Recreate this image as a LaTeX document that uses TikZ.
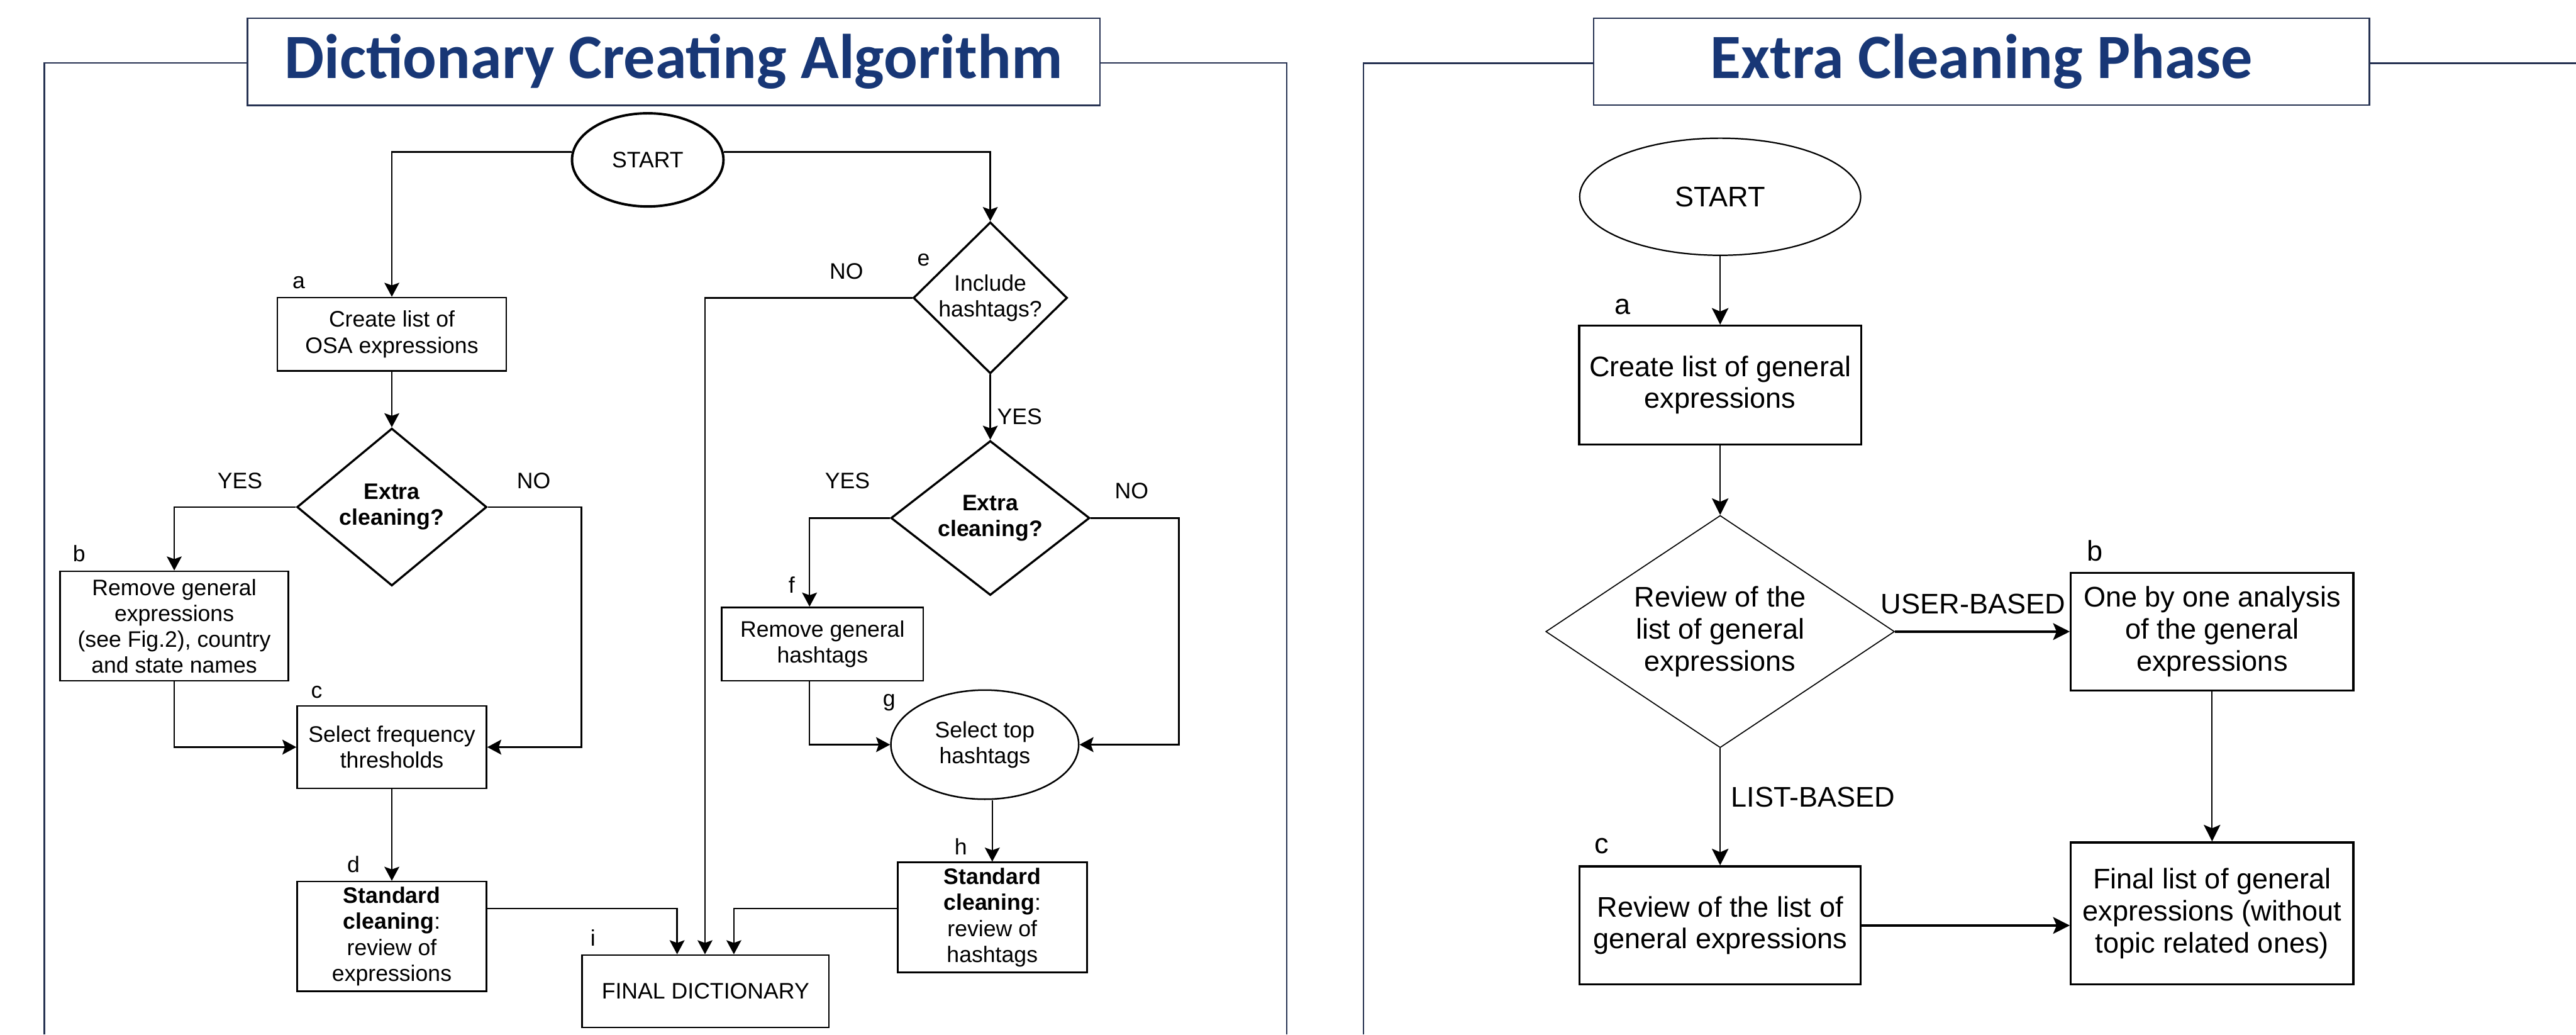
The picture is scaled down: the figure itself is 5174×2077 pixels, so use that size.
\documentclass[tikz,border=0pt]{standalone}
\usepackage{fontspec}
\setmainfont{Liberation Sans}
\newfontfamily\titlefont{Carlito}
\usetikzlibrary{positioning}
\usetikzlibrary{shapes.geometric}
\usetikzlibrary{arrows.meta}

\definecolor{titleblue}{RGB}{24,55,118}
\definecolor{framenavy}{RGB}{38,50,82}

\newcommand{\leftfont}{\fontsize{12.8}{14.8}\selectfont}
\newcommand{\rightfont}{\fontsize{16.2}{18.2}\selectfont}

\tikzset{
    frameline/.style={draw=framenavy, line width=0.8pt},
    titlebox/.style={draw=framenavy, line width=0.8pt, fill=white, inner sep=0pt, text=titleblue, font=\titlefont\bfseries\fontsize{36}{40}\selectfont},
    lbox/.style={draw, line width=0.9pt, align=center, inner sep=0pt, font=\leftfont},
    ldia/.style={diamond, draw, line width=1.2pt, align=center, inner sep=0pt, font=\leftfont\bfseries},
    lflow/.style={line width=0.9pt, -{Stealth[length=8pt,width=8.5pt,inset=1.5pt]}},
    ltxt/.style={font=\leftfont, inner sep=0pt},
    rbox/.style={draw, line width=1.2pt, align=center, inner sep=0pt, font=\rightfont},
    rflow/.style={line width=0.7pt, -{Stealth[length=9.5pt,width=9.5pt,inset=2pt]}},
    rtxt/.style={font=\rightfont, inner sep=0pt}
}

\begin{document}
\begin{tikzpicture}[x=0.01cm, y=-0.01cm]

        \useasboundingbox (0,0) rectangle (5174,2077);

        % frames
        \path[frameline] (89,2077) -- (89,126) -- (498,126);
        \path[frameline] (2209,126) -- (2584,126) -- (2584,2077);
        \path[frameline] (2739,2077) -- (2739,127) -- (3202,127);
        \path[frameline] (4759,127) -- (5174,127);

        \node[titlebox, minimum width=17.11cm, minimum height=1.75cm] (title1) at (1353,124) {Dictionary Creating Algorithm};
        \node[titlebox, minimum width=15.57cm, minimum height=1.74cm] (title2) at (3980,124) {Extra Cleaning Phase};

        % dictionary creating algorithm
        \node[ellipse, draw, line width=1.4pt, minimum width=3.04cm, minimum height=1.87cm, inner sep=0pt, font=\leftfont] (start1) at (1301,321) {START};
        \node[lbox, minimum width=4.59cm, minimum height=1.47cm] (oslist) at (787,671) {Create list of\\OSA expressions};
        \node[ldia, minimum width=3.81cm, minimum height=3.16cm] (xc1) at (787,1018) {Extra\\cleaning?};
        \node[lbox, minimum width=4.58cm, minimum height=2.2cm] (rmgen) at (350,1257) {Remove general\\expressions\\(see Fig.2), country\\and state names};
        \node[lbox, minimum width=3.8cm, minimum height=1.65cm] (selfreq) at (787,1500) {Select frequency\\thresholds};
        \node[lbox, minimum width=3.8cm, minimum height=2.2cm] (stdexp) at (787,1880) {\textbf{Standard}\\\textbf{cleaning}:\\review of\\expressions};
        \node[lbox, minimum width=4.96cm, minimum height=1.45cm] (final) at (1417,1990) {FINAL DICTIONARY};

        \node[ldia, font=\leftfont, minimum width=3.09cm, minimum height=3.04cm] (incl) at (1989,598) {Include\\hashtags?};
        \node[ldia, minimum width=3.99cm, minimum height=3.1cm] (xc2) at (1989,1040) {Extra\\cleaning?};
        \node[lbox, minimum width=4.05cm, minimum height=1.47cm] (rmhash) at (1652,1293) {Remove general\\hashtags};
        \node[ellipse, draw, line width=0.9pt, minimum width=3.77cm, minimum height=2.19cm, inner sep=0pt, align=center, font=\leftfont] (seltop) at (1978,1495) {Select top\\hashtags};
        \node[lbox, minimum width=3.8cm, minimum height=2.21cm] (stdhash) at (1993,1842) {\textbf{Standard}\\\textbf{cleaning}:\\review of\\hashtags};

        \node[ltxt] (la) at (600,567) {a};
        \node[ltxt] (lb) at (159,1111) {b};
        \node[ltxt] (lc) at (636,1390) {c};
        \node[ltxt] (ld) at (710,1735) {d};
        \node[ltxt] (le) at (1855,522) {e};
        \node[ltxt] (lf) at (1590,1174) {f};
        \node[ltxt] (lg) at (1786,1410) {g};
        \node[ltxt] (lh) at (1930,1700) {h};
        \node[ltxt] (li) at (1191,1883) {i};

        \node[ltxt] (yesa) at (482,965) {YES};
        \node[ltxt] (noa) at (1072,965) {NO};
        \node[ltxt] (nob) at (1700,545) {NO};
        \node[ltxt] (yesb) at (2048,836) {YES};
        \node[ltxt] (yesc) at (1702,965) {YES};
        \node[ltxt] (noc) at (2273,985) {NO};

        \coordinate (yes1) at (350,1018);
        \coordinate (no1) at (1168,1018);
        \coordinate (no0) at (1416,598);
        \coordinate (yes2) at (1626,1040);
        \coordinate (no2) at (2368,1040);
        \coordinate (dj1) at (1360,1824);
        \coordinate (dj2) at (1474,1824);

        \draw[lflow] (start1.174) -| (oslist.north);
        \draw[lflow] (start1.6) -| (incl.north);
        \draw[lflow] (oslist) -- (xc1);
        \draw[lflow] (xc1.west) -- (yes1) -- (rmgen.north);
        \draw[lflow] (xc1.east) -- (no1) |- (selfreq.east);
        \draw[lflow] (rmgen.south) |- (selfreq.west);
        \draw[lflow] (selfreq) -- (stdexp);
        \draw[lflow] (stdexp.east |- dj1) -- (dj1) -- (dj1 |- final.north);

        \draw[lflow] (incl.west) -- (no0) -- (no0 |- final.north);
        \draw[lflow] (incl) -- (xc2);
        \draw[lflow] (xc2.west) -- (yes2) -- (yes2 |- rmhash.north);
        \draw[lflow] (xc2.east) -- (no2) |- (seltop.east);
        \draw[lflow] (rmhash.south -| yes2) |- (seltop.west);
        \draw[lflow] (seltop.south -| stdhash.north) -- (stdhash.north);
        \draw[lflow] (stdhash.west |- dj2) -- (dj2) -- (dj2 |- final.north);

        % extra cleaning phase
        \node[ellipse, draw, line width=0.8pt, minimum width=5.64cm, minimum height=2.35cm, inner sep=0pt, font=\rightfont] (start2) at (3455,395) {START};
        \node[rbox, minimum width=5.66cm, minimum height=2.38cm] (glist) at (3455,773) {Create list of general\\expressions};
        \node[diamond, draw, line width=0.6pt, aspect=1.5, minimum width=7cm, minimum height=4.66cm, inner sep=0pt, align=center, font=\rightfont] (review) at (3455,1268) {Review of the\\list of general\\expressions};
        \node[rbox, minimum width=5.67cm, minimum height=2.36cm] (onebyone) at (4443,1268) {One by one analysis\\of the general\\expressions};
        \node[rbox, minimum width=5.64cm, minimum height=2.37cm] (revlist) at (3455,1858) {Review of the list of\\general expressions};
        \node[rbox, minimum width=5.67cm, minimum height=2.85cm] (finallist) at (4443,1834) {Final list of general\\expressions (without\\topic related ones)};

        \node[rtxt] (ra) at (3259,616) {a};
        \node[rtxt] (rb) at (4208,1106) {b};
        \node[rtxt] (rc) at (3217,1699) {c};
        \node[rtxt] (userb) at (3963,1213) {USER-BASED};
        \node[rtxt] (listb) at (3642,1601) {LIST-BASED};

        \draw[rflow] (start2) -- (glist);
        \draw[rflow] (glist) -- (review);
        \draw[rflow, line width=1.4pt] (review.east) -- (onebyone.west);
        \draw[rflow] (review.south) -- (revlist.north);
        \draw[rflow] (onebyone) -- (finallist);
        \draw[rflow, line width=1.4pt] (revlist.east) -- (revlist.east -| finallist.west);

        % \draw[red] (0,0) grid[step=100] (5174,2077);

\end{tikzpicture}
\end{document}
